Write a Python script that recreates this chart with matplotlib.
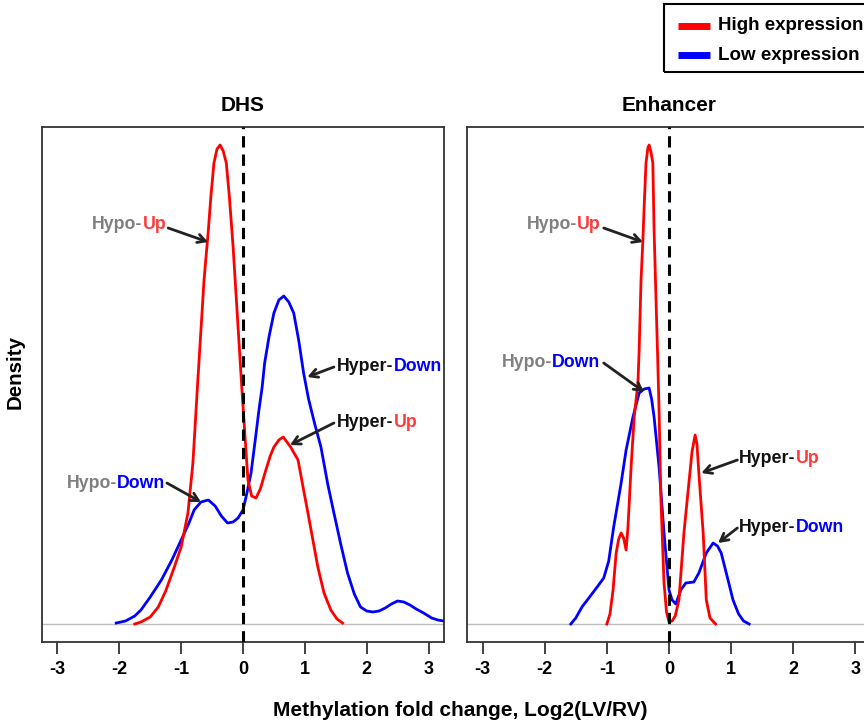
import matplotlib
matplotlib.use("Agg")
import matplotlib.pyplot as plt
from matplotlib.lines import Line2D
from matplotlib.patches import Rectangle
from matplotlib.offsetbox import TextArea, HPacker, AnnotationBbox

plt.rcParams['font.family'] = ['Liberation Sans', 'DejaVu Sans']
plt.rcParams['font.weight'] = 'bold'

# ---------------- data (density curves) ----------------
dhs_high_x = [-1.75, -1.65, -1.5, -1.37, -1.25, -1.11, -1.0, -0.89, -0.81, -0.73, -0.68, -0.63,
              -0.56, -0.52, -0.47, -0.42, -0.37, -0.32, -0.27, -0.22, -0.16, -0.11, -0.06, -0.02,
              0.03, 0.08, 0.14, 0.21, 0.28, 0.36, 0.44, 0.5, 0.58, 0.65, 0.77, 0.89, 0.98, 1.05,
              1.13, 1.21, 1.31, 1.42, 1.52, 1.61]
dhs_high_y = [0.0, 0.008, 0.028, 0.068, 0.132, 0.228, 0.308, 0.444, 0.644, 0.976, 1.176, 1.376,
              1.576, 1.708, 1.844, 1.9, 1.916, 1.892, 1.844, 1.708, 1.508, 1.308, 1.108, 0.948,
              0.76, 0.576, 0.512, 0.504, 0.54, 0.608, 0.672, 0.708, 0.736, 0.748, 0.708, 0.656,
              0.536, 0.444, 0.336, 0.228, 0.124, 0.056, 0.02, 0.004]

dhs_low_x = [-2.05, -1.9, -1.75, -1.65, -1.5, -1.32, -1.15, -1.0, -0.88, -0.79, -0.68, -0.56,
             -0.45, -0.35, -0.25, -0.16, -0.08, 0.0, 0.06, 0.13, 0.2, 0.26, 0.31, 0.35, 0.42, 0.5,
             0.58, 0.66, 0.74, 0.82, 0.9, 0.98, 1.06, 1.16, 1.26, 1.37, 1.47, 1.58, 1.69, 1.8,
             1.9, 2.0, 2.1, 2.2, 2.3, 2.4, 2.5, 2.6, 2.7, 2.8, 2.92, 3.05, 3.15, 3.25]
dhs_low_y = [0.004, 0.012, 0.032, 0.056, 0.108, 0.176, 0.256, 0.336, 0.4, 0.456, 0.488, 0.496,
             0.472, 0.432, 0.404, 0.408, 0.424, 0.456, 0.52, 0.604, 0.74, 0.86, 0.948, 1.044,
             1.148, 1.244, 1.296, 1.312, 1.288, 1.244, 1.136, 1.004, 0.9, 0.8, 0.708, 0.56,
             0.444, 0.32, 0.204, 0.12, 0.068, 0.052, 0.048, 0.052, 0.064, 0.08, 0.092, 0.088,
             0.076, 0.06, 0.044, 0.024, 0.016, 0.012]

enh_high_x = [-1.0, -0.95, -0.9, -0.85, -0.81, -0.77, -0.73, -0.69, -0.66, -0.61, -0.56, -0.5,
              -0.48, -0.45, -0.42, -0.4, -0.37, -0.34, -0.32, -0.29, -0.26, -0.24, -0.21, -0.18,
              -0.16, -0.13, -0.08, -0.04, 0.0, 0.05, 0.1, 0.16, 0.24, 0.32, 0.37, 0.42, 0.45,
              0.48, 0.55, 0.6, 0.66, 0.75]
enh_high_y = [0.0, 0.04, 0.136, 0.284, 0.34, 0.364, 0.344, 0.296, 0.388, 0.628, 0.828, 0.964,
              1.096, 1.376, 1.536, 1.668, 1.844, 1.904, 1.916, 1.888, 1.844, 1.576, 1.308,
              1.044, 0.856, 0.496, 0.164, 0.048, 0.008, 0.012, 0.032, 0.096, 0.364, 0.564,
              0.688, 0.756, 0.72, 0.604, 0.364, 0.096, 0.024, 0.0]

enh_low_x = [-1.58, -1.5, -1.4, -1.29, -1.18, -1.05, -0.97, -0.89, -0.77, -0.69, -0.58, -0.48,
             -0.4, -0.32, -0.28, -0.24, -0.16, -0.08, 0.0, 0.05, 0.11, 0.19, 0.27, 0.4, 0.48,
             0.6, 0.71, 0.78, 0.84, 0.95, 1.03, 1.12, 1.2, 1.29]
enh_low_y = [0.0, 0.024, 0.068, 0.104, 0.14, 0.184, 0.252, 0.388, 0.564, 0.696, 0.828, 0.924,
             0.94, 0.944, 0.9, 0.828, 0.628, 0.364, 0.136, 0.096, 0.08, 0.136, 0.164, 0.168,
             0.204, 0.284, 0.324, 0.312, 0.284, 0.176, 0.096, 0.04, 0.012, 0.0]

panel_titles = ["DHS", "Enhancer"]
tick_values = [-3, -2, -1, 0, 1, 2, 3]
legend_labels = ["High expression", "Low expression"]
x_label = "Methylation fold change, Log2(LV/RV)"
y_label = "Density"

# annotations: (text parts, text x, text y, align, arrow tail, arrow head)
GREY, RED_T, BLUE_T, BLACK_T = '#808080', '#FF3B3B', '#0000FF', '#111111'
dhs_notes = [
    ([("Hypo-", GREY), ("Up", RED_T)], -1.24, 1.596, 'right', (-1.21, 1.584), (-0.565, 1.528)),
    ([("Hyper-", BLACK_T), ("Down", BLUE_T)], 1.52, 1.028, 'left', (1.47, 1.028), (1.04, 0.988)),
    ([("Hyper-", BLACK_T), ("Up", RED_T)], 1.52, 0.804, 'left', (1.47, 0.804), (0.76, 0.716)),
    ([("Hypo-", GREY), ("Down", BLUE_T)], -1.26, 0.56, 'right', (-1.23, 0.564), (-0.68, 0.488)),
]
enh_notes = [
    ([("Hypo-", GREY), ("Up", RED_T)], -1.10, 1.596, 'right', (-1.05, 1.584), (-0.42, 1.528)),
    ([("Hypo-", GREY), ("Down", BLUE_T)], -1.11, 1.044, 'right', (-1.05, 1.044), (-0.40, 0.928)),
    ([("Hyper-", BLACK_T), ("Up", RED_T)], 1.13, 0.66, 'left', (1.10, 0.656), (0.52, 0.604)),
    ([("Hyper-", BLACK_T), ("Down", BLUE_T)], 1.13, 0.388, 'left', (1.10, 0.384), (0.79, 0.324)),
]

# ---------------- figure ----------------
W, H = 864, 722
fig = plt.figure(figsize=(W / 100, H / 100), dpi=100)

def fx(px):
    return px / W

def fy(py):
    return 1 - py / H

SPINE = '#333333'
ax1 = fig.add_axes([fx(42), fy(642), fx(444) - fx(42), fy(127) - fy(642)])
ax2 = fig.add_axes([fx(467), fy(642), fx(871) - fx(467), fy(127) - fy(642)])

panels = [
    (ax1, panel_titles[0], dhs_high_x, dhs_high_y, dhs_low_x, dhs_low_y, dhs_notes),
    (ax2, panel_titles[1], enh_high_x, enh_high_y, enh_low_x, enh_low_y, enh_notes),
]

for ax, title, hx, hy, lx, ly, notes in panels:
    ax.set_xlim(-3.25, 3.25)
    ax.set_ylim(-0.072, 1.988)
    ax.axhline(0, color='#BEBEBE', lw=1.0, zorder=1)
    ax.plot(lx, ly, color='#0000FF', lw=2.0, zorder=3, solid_joinstyle='round')
    ax.plot(hx, hy, color='#FF0000', lw=2.0, zorder=3, solid_joinstyle='round')
    ax.axvline(0, color='black', lw=2.2, dashes=(3.7, 2.3), zorder=4)
    for s in ax.spines.values():
        s.set_color(SPINE)
        s.set_linewidth(1.3)
    ax.set_xticks(tick_values)
    ax.set_xticklabels([str(t) for t in tick_values], fontsize=13, fontweight='bold')
    ax.tick_params(axis='x', direction='out', length=8.6, width=1.3, color=SPINE, pad=5)
    ax.set_yticks([])
    ax.text(0.5, 1.0427, title, transform=ax.transAxes, ha='center', va='center',
            fontsize=15, fontweight='bold')
    for parts, tx, ty, align, tail, head in notes:
        boxes = [TextArea(t, textprops=dict(color=c, fontsize=12.8, fontweight='bold'))
                 for t, c in parts]
        pack = HPacker(children=boxes, align='baseline', pad=0, sep=0)
        ab = AnnotationBbox(pack, (tx, ty), xycoords='data', frameon=False, pad=0,
                            box_alignment=(1, 0.5) if align == 'right' else (0, 0.5),
                            zorder=6)
        ax.add_artist(ab)
        ax.annotate('', xy=head, xytext=tail, xycoords='data', textcoords='data',
                    arrowprops=dict(arrowstyle='->,head_length=0.55,head_width=0.3',
                                    color='#222222', lw=2.0, shrinkA=0, shrinkB=0),
                    zorder=6)

fig.text(fx(460), fy(710), x_label, ha='center', va='center', fontsize=15, fontweight='bold')
fig.text(fx(15), fy(372), y_label, ha='center', va='center', rotation=90,
         fontsize=14.8, fontweight='bold')

# legend box
fig.add_artist(Rectangle((fx(664), fy(72)), fx(890) - fx(664), fy(4) - fy(72),
                         transform=fig.transFigure, fill=False, edgecolor='black', lw=1.5))
for (py, col), lab in zip([(26, '#FF0000'), (55, '#0000FF')], legend_labels):
    fig.add_artist(Line2D([fx(678), fx(710)], [fy(py), fy(py)], transform=fig.transFigure,
                          color=col, lw=5.0, solid_capstyle='butt'))
    fig.text(fx(718), fy(py), lab, ha='left', va='center', fontsize=13.5, fontweight='bold')

fig.savefig("out.png", dpi=100)
